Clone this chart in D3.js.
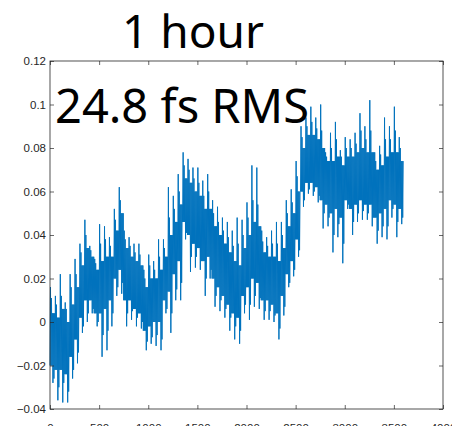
<!DOCTYPE html>
<html>
<head>
<meta charset="utf-8">
<script src="https://cdn.jsdelivr.net/npm/d3@7"></script>
<style>
  html, body { margin: 0; padding: 0; background: #fff; overflow: hidden; }
</style>
</head>
<body>
<svg id="chart" width="452" height="426"></svg>
<script>
// bin start times (s), 50 s bins
const binStart = [
  0, 50, 100, 150, 200, 250, 300, 350, 400, 450, 500, 550,
  600, 650, 700, 750, 800, 850, 900, 950, 1000, 1050, 1100, 1150,
  1200, 1250, 1300, 1350, 1400, 1450, 1500, 1550, 1600, 1650, 1700, 1750,
  1800, 1850, 1900, 1950, 2000, 2050, 2100, 2150, 2200, 2250, 2300, 2350,
  2400, 2450, 2500, 2550, 2600, 2650, 2700, 2750, 2800, 2850, 2900, 2950,
  3000, 3050, 3100, 3150, 3200, 3250, 3300, 3350, 3400, 3450, 3500, 3550
];
// highest spike per bin
const binHigh = [
  0.016, 0.012, 0.022, 0.009, 0.022, 0.029, 0.036, 0.047, 0.035, 0.029, 0.045, 0.044,
  0.039, 0.052, 0.062, 0.042, 0.039, 0.036, 0.036, 0.024, 0.031, 0.028, 0.038, 0.038,
  0.062, 0.058, 0.068, 0.078, 0.075, 0.071, 0.071, 0.065, 0.068, 0.056, 0.053, 0.048,
  0.046, 0.042, 0.048, 0.047, 0.055, 0.072, 0.071, 0.042, 0.039, 0.042, 0.046, 0.046,
  0.056, 0.061, 0.074, 0.090, 0.094, 0.099, 0.094, 0.100, 0.078, 0.087, 0.092, 0.079,
  0.085, 0.084, 0.087, 0.096, 0.090, 0.102, 0.078, 0.081, 0.094, 0.090, 0.099, 0.085
];
// second, smaller upward spike per bin
const binHigh2 = [
  0.011, 0.008, 0.012, 0.006, 0.016, 0.022, 0.032, 0.040, 0.033, 0.027, 0.036, 0.038,
  0.035, 0.047, 0.056, 0.038, 0.035, 0.032, 0.031, 0.020, 0.026, 0.024, 0.030, 0.034,
  0.048, 0.052, 0.060, 0.072, 0.070, 0.066, 0.064, 0.058, 0.060, 0.050, 0.046, 0.042,
  0.039, 0.035, 0.036, 0.040, 0.048, 0.056, 0.054, 0.037, 0.035, 0.036, 0.036, 0.040,
  0.050, 0.055, 0.067, 0.085, 0.090, 0.092, 0.089, 0.088, 0.076, 0.080, 0.084, 0.076,
  0.080, 0.080, 0.082, 0.088, 0.084, 0.088, 0.074, 0.077, 0.084, 0.084, 0.088, 0.080
];
// lowest spike per bin
const binLow = [
  -0.028, -0.036, -0.037, -0.037, -0.026, -0.019, -0.005, 0.000, 0.004, -0.002, -0.016, -0.013,
  -0.002, 0.012, 0.013, -0.002, 0.001, -0.002, -0.003, -0.013, -0.010, -0.011, -0.013, 0.004,
  -0.005, 0.010, 0.010, 0.038, 0.023, 0.025, 0.024, 0.012, 0.020, 0.007, 0.005, 0.002,
  -0.004, -0.008, -0.010, 0.004, 0.001, 0.007, 0.006, 0.001, 0.001, 0.000, -0.008, 0.003,
  0.016, 0.021, 0.030, 0.053, 0.059, 0.058, 0.055, 0.043, 0.044, 0.032, 0.039, 0.027,
  0.052, 0.040, 0.046, 0.047, 0.047, 0.044, 0.036, 0.039, 0.038, 0.048, 0.039, 0.045
];
// second, smaller downward spike per bin
const binLow2 = [
  -0.026, -0.030, -0.028, -0.032, -0.022, -0.014, -0.002, 0.004, 0.006, 0.000, -0.006, -0.004,
  0.004, 0.016, 0.018, 0.004, 0.005, 0.002, 0.000, -0.009, -0.007, -0.006, -0.008, 0.006,
  0.004, 0.015, 0.018, 0.041, 0.030, 0.030, 0.028, 0.020, 0.024, 0.012, 0.010, 0.006,
  0.002, -0.002, -0.004, 0.008, 0.008, 0.012, 0.011, 0.005, 0.005, 0.003, -0.003, 0.007,
  0.018, 0.024, 0.033, 0.056, 0.061, 0.060, 0.058, 0.050, 0.048, 0.040, 0.045, 0.036,
  0.054, 0.046, 0.050, 0.051, 0.050, 0.048, 0.042, 0.044, 0.044, 0.052, 0.046, 0.048
];
// top and bottom of the dense band per bin
const coreHigh = [
  0.004, 0.002, 0.006, 0.000, 0.008, 0.016, 0.026, 0.034, 0.030, 0.024, 0.028, 0.030,
  0.030, 0.042, 0.050, 0.034, 0.030, 0.028, 0.026, 0.016, 0.020, 0.020, 0.024, 0.030,
  0.040, 0.046, 0.054, 0.066, 0.064, 0.060, 0.058, 0.052, 0.052, 0.044, 0.040, 0.036,
  0.032, 0.028, 0.026, 0.034, 0.040, 0.046, 0.044, 0.032, 0.030, 0.030, 0.028, 0.034,
  0.044, 0.050, 0.060, 0.080, 0.086, 0.086, 0.084, 0.080, 0.074, 0.074, 0.076, 0.072,
  0.076, 0.076, 0.078, 0.080, 0.078, 0.078, 0.070, 0.072, 0.076, 0.078, 0.078, 0.074
];
const coreLow = [
  -0.020, -0.022, -0.022, -0.024, -0.016, -0.008, 0.002, 0.010, 0.010, 0.004, 0.004, 0.006,
  0.010, 0.020, 0.024, 0.010, 0.010, 0.006, 0.004, -0.004, -0.002, 0.000, 0.000, 0.010,
  0.014, 0.022, 0.028, 0.046, 0.040, 0.036, 0.034, 0.028, 0.030, 0.020, 0.016, 0.012,
  0.008, 0.004, 0.002, 0.012, 0.016, 0.020, 0.018, 0.010, 0.010, 0.008, 0.004, 0.012,
  0.022, 0.028, 0.038, 0.060, 0.064, 0.064, 0.062, 0.056, 0.054, 0.050, 0.052, 0.048,
  0.056, 0.052, 0.054, 0.056, 0.054, 0.054, 0.048, 0.050, 0.052, 0.056, 0.054, 0.052
];

const xTicks = [0, 500, 1000, 1500, 2000, 2500, 3000, 3500, 4000];
const yTicks = [-0.04, -0.02, 0, 0.02, 0.04, 0.06, 0.08, 0.1, 0.12];
const titleText = '1 hour';
const noteText = '24.8 fs RMS';

const width = 452;
const height = 426;
const margin = { top: 61, right: 9, bottom: 17, left: 50 };
const chartWidth = width - margin.left - margin.right;
const chartHeight = height - margin.top - margin.bottom;
const axisColor = '#262626';
const lineColor = '#0072bd';

const svg = d3.select('#chart');

const xScale = d3.scaleLinear().domain([0, 4000]).range([0, chartWidth]);
const yScale = d3.scaleLinear().domain([-0.04, 0.12]).range([chartHeight, 0]);

// each 50 s bin becomes 10 samples, 5 s apart: two spikes up, two down,
// swinging across the dense band in between
const points = [];
binStart.forEach((t, i) => {
  const seq = [
    coreLow[i], binHigh[i], coreLow[i], binHigh2[i], coreLow[i],
    coreHigh[i], binLow[i], coreHigh[i], binLow2[i], coreHigh[i]
  ];
  seq.forEach((v, k) => points.push({ x: t + k * 5, y: v }));
});

const line = d3
  .line()
  .x((d) => xScale(d.x))
  .y((d) => yScale(d.y));

const g = svg
  .append('g')
  .attr('transform', `translate(${margin.left},${margin.top})`);

g.append('path')
  .datum(points)
  .attr('fill', 'none')
  .attr('stroke', lineColor)
  .attr('stroke-width', 1)
  .attr('d', line);

const tickStyle = (sel) => {
  sel.selectAll('text')
    .attr('font-family', '"Liberation Sans", Arial, sans-serif')
    .attr('font-size', '11.5px')
    .attr('fill', axisColor);
  sel.select('.domain').remove();
  sel.selectAll('line').attr('stroke', axisColor).attr('stroke-width', 0.7);
};

// bottom / left with labels, ticks pointing in
g.append('g')
  .attr('transform', `translate(0,${chartHeight})`)
  .call(d3.axisBottom(xScale).tickValues(xTicks).tickSize(-4).tickPadding(15).tickFormat(d3.format('d')))
  .call(tickStyle);

g.append('g')
  .call(d3.axisLeft(yScale).tickValues(yTicks).tickSize(-4).tickPadding(4).tickFormat((d) => d3.format('~g')(+d.toFixed(2))))
  .call(tickStyle);

// mirrored ticks on top and right
g.append('g')
  .call(d3.axisTop(xScale).tickValues(xTicks).tickSize(-4).tickFormat(''))
  .call(tickStyle);

g.append('g')
  .attr('transform', `translate(${chartWidth},0)`)
  .call(d3.axisRight(yScale).tickValues(yTicks).tickSize(-4).tickFormat(''))
  .call(tickStyle);

g.append('rect')
  .attr('x', 0)
  .attr('y', 0)
  .attr('width', chartWidth)
  .attr('height', chartHeight)
  .attr('fill', 'none')
  .attr('stroke', axisColor)
  .attr('stroke-width', 0.8);

svg.append('text')
  .attr('x', 193)
  .attr('y', 48)
  .attr('text-anchor', 'middle')
  .attr('font-family', '"Noto Sans", "Open Sans", sans-serif')
  .attr('font-size', '46px')
  .attr('fill', '#000')
  .text(titleText);

svg.append('text')
  .attr('x', 55)
  .attr('y', 123)
  .attr('font-family', '"Noto Sans", "Open Sans", sans-serif')
  .attr('font-size', '47px')
  .attr('fill', '#000')
  .text(noteText);
</script>
</body>
</html>
